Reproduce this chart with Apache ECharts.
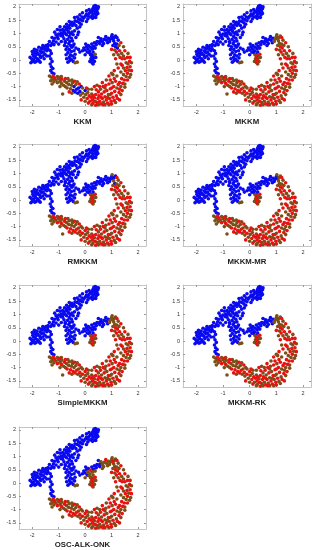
<!DOCTYPE html>
<html>
<head>
<meta charset="utf-8">
<script src="https://cdn.jsdelivr.net/npm/echarts@6/dist/echarts.min.js"></script>
<style>
html,body{margin:0;padding:0;background:#fff;}
#chart{width:315px;height:550px;}
</style>
</head>
<body>
<div id="chart"></div>
<script>
// ---- data: point groups [x, y, baseLabel]  (0 = blue, 1 = red, 2 = brown) ----
const methods = ["KKM", "MKKM", "RMKKM", "MKKM-MR", "SimpleMKKM", "MKKM-RK", "OSC-ALK-ONK"];
const xTicks = [-2, -1, 0, 1, 2];
const yTicks = [-1.5, -1, -0.5, 0, 0.5, 1, 1.5, 2];

const topCluster = [[0.42,2.02,0],[0.38,2.05,0],[0.45,1.98,0],[0.35,1.97,0],[0.40,1.92,0],[0.48,1.93,0],[0.30,1.95,0],[0.43,1.88,0],[0.36,1.85,0],[0.28,1.88,0],[0.50,2.00,0],[0.33,2.02,0],[0.25,1.80,0],[0.38,1.78,0],[0.45,1.82,0],[0.20,1.83,0],[0.30,1.72,0],[0.42,1.70,0],[0.15,1.75,0],[0.35,1.62,0],[0.25,1.65,0],[0.48,1.75,0],[0.10,1.68,0],[0.28,1.57,0],[0.40,1.60,0],[0.05,1.72,0],[0.18,1.62,0]];
const upperBand = [[0.00,1.65,0],[-0.05,1.58,0],[-0.12,1.62,0],[-0.18,1.52,0],[-0.25,1.55,0],[-0.30,1.45,0],[-0.22,1.40,0],[-0.38,1.48,0],[-0.42,1.38,0],[-0.50,1.42,0],[-0.48,1.30,0],[-0.55,1.35,0],[-0.62,1.28,0],[-0.58,1.20,0],[-0.68,1.22,0],[-0.72,1.15,0],[-0.78,1.25,0],[-0.80,1.08,0],[-0.85,1.15,0],[-0.90,1.02,0],[-0.95,1.12,0],[-1.00,0.98,0],[-0.92,0.92,0],[-1.05,0.88,0],[-1.10,0.95,0],[-1.02,0.80,0],[-1.15,0.82,0],[-1.20,0.72,0],[-1.10,0.68,0],[-1.25,0.62,0],[-1.18,0.58,0],[-1.30,0.55,0],[-0.65,1.10,0],[-0.75,1.00,0],[-0.85,0.90,0],[-0.35,1.30,0],[0.10,1.55,0],[-0.10,1.48,0]];
const bandFill = [[-0.30,1.20,0],[-0.40,1.10,0],[-0.25,1.05,0],[-0.45,0.95,0],[-0.35,0.85,0],[-0.80,0.80,0],[-0.90,0.70,0],[-0.75,0.65,0],[-1.00,0.60,0],[-0.20,1.25,0],[-0.15,1.35,0],[0.05,1.45,0],[-0.60,1.45,0],[-0.70,1.35,0],[-0.95,1.25,0],[-1.05,1.15,0],[-1.15,1.05,0],[-1.25,0.85,0],[-0.40,1.60,0],[-0.20,1.70,0],[0.15,1.90,0],[0.05,1.85,0],[-0.10,1.78,0],[-0.30,1.62,0],[-0.85,1.00,0],[-0.50,1.05,0],[-1.35,0.70,0],[-1.40,0.40,0],[-0.28,0.95,0],[-0.42,0.60,0],[-0.78,0.55,0],[-0.72,0.40,0]];
const leftArm = [[-2.05,-0.10,0],[-2.00,-0.05,0],[-1.95,0.02,0],[-2.02,0.05,0],[-1.90,-0.08,0],[-1.88,0.10,0],[-1.95,0.15,0],[-1.85,0.20,0],[-1.80,0.05,0],[-1.78,0.25,0],[-1.90,0.28,0],[-1.72,0.18,0],[-1.70,0.35,0],[-1.82,0.38,0],[-1.65,0.28,0],[-1.62,0.42,0],[-1.58,0.30,0],[-1.55,0.48,0],[-1.50,0.40,0],[-1.48,0.55,0],[-1.42,0.50,0],[-1.40,0.58,0],[-1.75,-0.02,0],[-1.68,0.10,0],[-1.60,0.15,0],[-1.98,0.22,0],[-1.85,-0.05,0],[-1.52,0.22,0],[-1.45,0.35,0],[-2.08,0.10,0],[-1.92,0.40,0],[-1.75,0.48,0],[-1.60,0.55,0],[-1.70,-0.08,0],[-1.55,0.05,0],[-1.45,0.15,0],[-1.85,0.30,0],[-2.00,0.32,0],[-1.65,0.45,0]];
const vertBranch = [[-0.62,1.05,0],[-0.55,0.98,0],[-0.70,0.95,0],[-0.60,0.88,0],[-0.52,0.82,0],[-0.66,0.78,0],[-0.58,0.70,0],[-0.48,0.72,0],[-0.62,0.62,0],[-0.55,0.55,0],[-0.68,0.50,0],[-0.50,0.48,0],[-0.60,0.40,0],[-0.52,0.32,0],[-0.65,0.28,0],[-0.56,0.20,0],[-0.48,0.15,0],[-0.60,0.10,0],[-0.52,0.02,0],[-0.45,-0.05,0],[-0.40,0.08,0],[-0.58,-0.02,0],[-0.72,0.20,0],[-0.70,0.05,0],[-0.42,0.35,0],[-0.38,0.22,0],[-0.75,0.70,0],[-0.45,0.55,0],[-0.35,0.45,0],[-0.65,-0.08,0],[-0.38,-0.10,2],[-0.30,-0.08,2]];
const lowLeftBranch = [[-1.32,0.35,0],[-1.28,0.25,0],[-1.35,0.15,0],[-1.30,0.05,0],[-1.25,-0.05,0],[-1.32,-0.15,0],[-1.28,-0.25,0],[-1.22,-0.32,0],[-1.30,-0.40,0],[-1.25,-0.48,0],[-1.18,-0.52,0]];
const midCluster = [[-0.05,0.45,0],[0.00,0.38,0],[0.05,0.50,0],[0.10,0.42,0],[0.12,0.55,0],[0.18,0.35,0],[0.20,0.48,0],[0.25,0.60,0],[0.28,0.42,0],[0.32,0.52,0],[0.35,0.65,0],[0.38,0.45,0],[0.42,0.58,0],[0.15,0.28,0],[0.22,0.22,0],[0.08,0.30,0],[-0.10,0.35,0],[0.30,0.30,0],[0.45,0.70,0],[0.02,0.60,0]];
const midFill = [[-0.25,0.40,0],[-0.20,0.30,0],[0.00,0.20,0],[0.60,0.80,0],[0.70,0.62,0],[0.85,0.65,0],[0.78,0.88,0],[0.50,0.85,0],[1.12,0.62,2],[1.02,0.95,2],[0.65,0.55,0]];
const rightArm = [[0.50,0.68,0],[0.58,0.72,0],[0.65,0.70,0],[0.72,0.78,0],[0.80,0.75,0],[0.88,0.82,0],[0.95,0.78,2],[1.00,0.88,2],[1.05,0.80,2],[1.10,0.85,2],[1.08,0.72,2],[1.15,0.90,2],[0.55,0.62,0],[0.92,0.70,2]];
const smallCluster = [[0.20,0.20,2],[0.25,0.12,1],[0.30,0.18,2],[0.22,0.05,2],[0.28,0.00,1],[0.32,0.08,2],[0.18,-0.05,2],[0.26,-0.10,1],[0.35,-0.05,2],[0.30,-0.15,2],[0.38,0.22,1],[0.40,0.10,2]];
const arcLeft = [[-1.28,-0.65,2],[-1.22,-0.72,2],[-1.30,-0.78,2],[-1.15,-0.68,1],[-1.18,-0.82,2],[-1.10,-0.75,2],[-1.05,-0.85,1],[-1.00,-0.70,2],[-0.95,-0.80,2],[-0.90,-0.88,1],[-0.88,-0.72,2],[-0.82,-0.95,2],[-0.78,-0.80,1],[-0.75,-1.00,2],[-0.70,-0.85,2],[-0.68,-1.05,1],[-0.62,-0.92,2],[-0.60,-0.78,2],[-0.55,-1.08,1],[-0.52,-0.95,2],[-0.48,-0.85,2],[-0.45,-1.15,1],[-0.42,-1.00,2],[-0.38,-1.20,1],[-0.35,-0.92,2],[-0.32,-1.10,1],[-0.28,-1.25,2],[-0.25,-1.05,2],[-0.85,-1.28,2],[-1.25,-0.90,2],[-0.95,-0.65,1]];
const arcBottom = [[-0.20,-1.18,1],[-0.18,-1.32,2],[-0.15,-1.00,2],[-0.10,-1.25,1],[-0.05,-1.40,2],[0.00,-1.15,1],[0.02,-1.30,2],[0.08,-1.45,1],[0.10,-1.22,2],[0.15,-1.35,1],[0.18,-1.55,2],[0.22,-1.40,1],[0.25,-1.28,2],[0.28,-1.50,1],[0.30,-1.62,2],[0.35,-1.42,2],[0.38,-1.55,1],[0.40,-1.30,1],[0.45,-1.60,2],[0.48,-1.45,1],[0.50,-1.20,2],[0.52,-1.35,1],[0.55,-1.55,2],[0.58,-1.10,1],[0.60,-1.65,1],[0.62,-1.28,2],[0.65,-1.45,1],[0.68,-1.00,1],[0.70,-1.58,2],[0.72,-1.20,1],[0.75,-1.38,2],[0.78,-0.95,2],[0.80,-1.50,1],[0.82,-1.15,2],[0.85,-1.62,1],[0.88,-1.30,1],[0.90,-0.90,1],[0.92,-1.45,2],[0.95,-1.08,1],[0.98,-1.55,1],[1.00,-1.25,2],[1.02,-0.85,2],[1.05,-1.40,1],[1.08,-1.00,1],[1.10,-1.52,2],[1.12,-1.18,1],[1.15,-0.80,1],[1.18,-1.35,2],[1.20,-1.05,2],[1.22,-1.45,1],[1.25,-0.92,1],[1.28,-1.22,1],[0.75,-1.68,2],[0.55,-1.00,2],[0.42,-1.12,1],[1.30,-1.10,2]];
const arcRight = [[1.30,-0.85,1],[1.35,-1.00,2],[1.38,-0.70,1],[1.42,-0.88,1],[1.45,-0.55,2],[1.48,-0.75,1],[1.50,-1.02,2],[1.52,-0.40,1],[1.55,-0.62,2],[1.58,-0.28,1],[1.60,-0.50,1],[1.62,-0.15,2],[1.65,-0.38,2],[1.68,-0.05,1],[1.70,-0.25,1],[1.72,-0.55,2],[1.55,-0.10,2],[1.50,0.05,1],[1.45,0.15,2],[1.40,-0.20,1],[1.35,-0.45,2],[1.32,0.10,1],[1.38,0.25,2],[1.30,0.35,1],[1.25,0.20,2],[1.22,0.45,1],[1.28,0.55,2],[1.18,0.30,1],[1.20,0.60,2],[1.15,0.50,1],[1.12,0.38,2],[1.40,0.05,1],[1.60,0.10,1],[1.25,-0.30,1],[1.20,-0.60,2],[1.10,-0.70,1],[1.05,-0.55,2],[0.95,-0.75,1],[1.45,-0.30,2],[1.35,-0.15,1]];
const arcFill = [[-1.35,-0.60,2],[-1.20,-0.60,1],[-1.05,-0.62,2],[-0.90,-0.62,2],[-0.75,-0.70,1],[-0.65,-0.70,2],[-0.50,-0.75,2],[-0.40,-0.80,1],[-0.30,-0.82,2],[-0.22,-0.90,1],[-0.10,-1.05,2],[0.05,-1.05,1],[0.12,-1.10,2],[-0.95,-1.00,2],[-0.60,-1.20,1],[-0.50,-1.25,2],[-0.15,-1.50,1],[0.00,-1.55,2],[0.12,-1.62,1],[0.25,-1.68,2],[0.40,-1.70,1],[0.50,-1.68,2],[0.68,-1.68,1],[0.90,-1.68,2],[1.00,-1.65,1],[1.15,-1.60,2],[1.30,-1.50,1],[1.35,-1.30,2],[1.40,-1.15,1],[1.50,-0.90,2],[1.60,-0.75,1],[1.68,-0.65,2],[1.75,-0.40,1],[1.75,-0.10,2],[1.70,0.10,1],[1.62,0.25,2],[1.50,0.35,1],[1.45,0.50,2],[1.35,0.65,1],[1.25,0.75,2],[1.20,0.85,1],[1.05,0.55,2],[1.00,0.40,1],[1.08,0.20,2],[1.15,0.05,1],[1.20,-0.15,2],[1.10,-0.40,1],[1.00,-0.50,2],[0.90,-0.60,1],[0.80,-0.75,2],[0.65,-0.85,1],[0.45,-0.95,2],[0.35,-1.00,1],[0.25,-1.10,2],[0.60,-1.40,1],[0.85,-1.40,2],[0.30,-1.35,1],[0.75,-1.05,2],[1.00,-1.05,1],[0.95,-1.30,2]];

// per-method label overrides (one character per point of the group, "." keeps the base label)
const kkmLabels = {
  rightArm: "00000000000000",
  midFill: "00000000000",
  smallCluster: "000000000020",
  arcLeft: "2221222222122222222220002000222",
  arcBottom: "02022021211121112111111211112111111211111211111121112111",
  arcRight: ".........................0..00",
  arcFill: ".......................................000"
};
const mkkmLabels = {};
const rmkkmLabels = { rightArm: "00000000002000", midFill: "00000000020" };
const mkkmMrLabels = { rightArm: "00000000022200" };
const simpleLabels = {};
const mkkmRkLabels = {};
const oscLabels = { rightArm: "00222222122202", midCluster: "00020210200202200200", midFill: "00222210222" };

const groupNames = ["topCluster","upperBand","bandFill","leftArm","vertBranch","lowLeftBranch","midCluster","midFill","rightArm","smallCluster","arcLeft","arcBottom","arcRight","arcFill"];
const groups = {topCluster, upperBand, bandFill, leftArm, vertBranch, lowLeftBranch, midCluster, midFill, rightArm, smallCluster, arcLeft, arcBottom, arcRight, arcFill};
const labelSets = [kkmLabels, mkkmLabels, rmkkmLabels, mkkmMrLabels, simpleLabels, mkkmRkLabels, oscLabels];

// ---- style / layout ----
const colors = ["#0a0af0", "#e81010", "#7a4f18"];
const colLeft = [19, 183];
const colWidth = [127, 128];
const rowTop = [4, 144, 285, 427];
const plotH = 102;
const font = "'Liberation Sans', Arial, sans-serif";

const grid = [], xAxis = [], yAxis = [], series = [];
methods.forEach((m, i) => {
  const r = Math.floor(i / 2), c = i % 2;
  grid.push({ left: colLeft[c], top: rowTop[r], width: colWidth[c], height: plotH });
  const axLine = { show: true, onZero: false, lineStyle: { color: "#c4c4c4", width: 1 } };
  const tick = { show: true, inside: true, length: 2, lineStyle: { color: "#9a9a9a" } };
  xAxis.push({
    type: "value", gridIndex: i, min: -2.5, max: 2.3, position: "bottom",
    axisLine: axLine, splitLine: { show: false },
    axisTick: Object.assign({ customValues: xTicks }, tick),
    axisLabel: { customValues: xTicks, fontSize: 5.5, color: "#333", margin: 3, fontFamily: font },
    name: m, nameLocation: "middle", nameGap: 12,
    nameTextStyle: { fontSize: 7.8, fontWeight: "bold", color: "#222", fontFamily: font }
  });
  xAxis.push({
    type: "value", gridIndex: i, min: -2.5, max: 2.3, position: "top",
    axisLine: axLine, splitLine: { show: false },
    axisTick: Object.assign({ customValues: xTicks }, tick),
    axisLabel: { show: false }
  });
  yAxis.push({
    type: "value", gridIndex: i, min: -1.73, max: 2.11, position: "left",
    axisLine: axLine, splitLine: { show: false },
    axisTick: Object.assign({ customValues: yTicks }, tick),
    axisLabel: { customValues: yTicks, fontSize: 5.5, color: "#333", margin: 3, fontFamily: font }
  });
  yAxis.push({
    type: "value", gridIndex: i, min: -1.73, max: 2.11, position: "right",
    axisLine: axLine, splitLine: { show: false },
    axisTick: Object.assign({ customValues: yTicks }, tick),
    axisLabel: { show: false }
  });
  const buckets = [[], [], []];
  const ov = labelSets[i];
  groupNames.forEach(g => {
    const pts = groups[g];
    const s = ov[g];
    pts.forEach((p, k) => {
      const ch = (s && k < s.length) ? s[k] : ".";
      const lab = ch === "." ? p[2] : +ch;
      buckets[lab].push([p[0], p[1]]);
    });
  });
  [0, 2, 1].forEach(lab => {
    series.push({
      type: "scatter", xAxisIndex: 2 * i, yAxisIndex: 2 * i,
      data: buckets[lab], symbolSize: 3.6, silent: true,
      itemStyle: { color: colors[lab], opacity: 1 }
    });
  });
});

const chart = echarts.init(document.getElementById("chart"), null, { renderer: "canvas" });
chart.setOption({ animation: false, backgroundColor: "#fff", grid, xAxis, yAxis, series });
</script>
</body>
</html>
